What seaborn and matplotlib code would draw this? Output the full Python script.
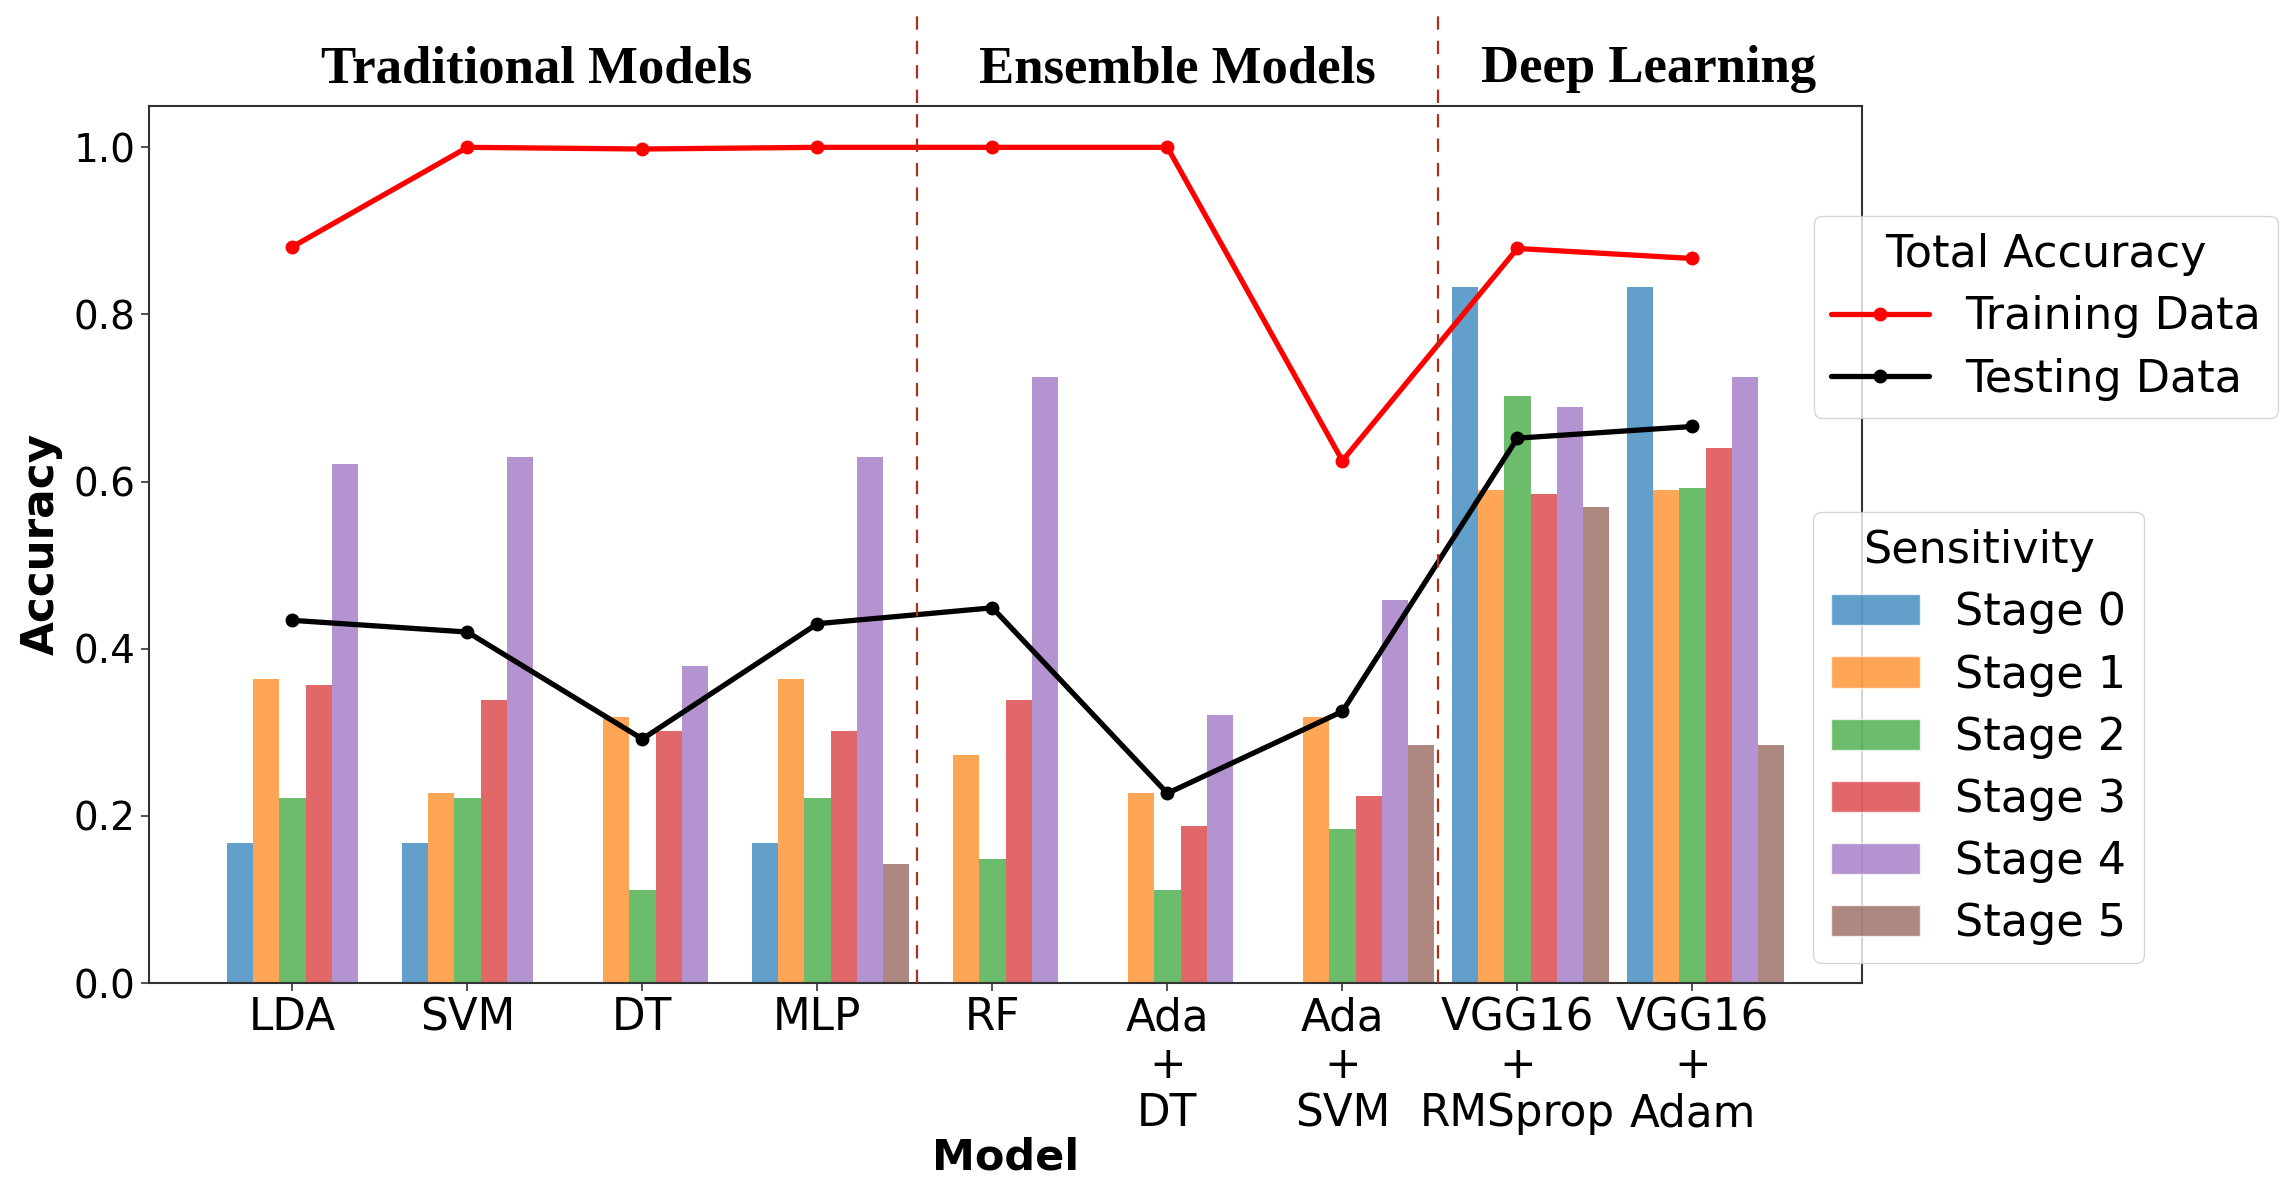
import numpy as np
import pandas as pd
import seaborn as sns
import matplotlib.pyplot as plt
from matplotlib.patches import Patch
from matplotlib.lines import Line2D
from matplotlib.transforms import blended_transform_factory

# ---- data ----
models = ["LDA", "SVM", "DT", "MLP", "RF", "Ada\n+\nDT", "Ada\n+\nSVM",
          "VGG16\n+\nRMSprop", "VGG16\n+\nAdam"]
stages = ["Stage 0", "Stage 1", "Stage 2", "Stage 3", "Stage 4", "Stage 5"]

stage0 = [0.167, 0.167, 0.0, 0.167, 0.0, 0.0, 0.0, 0.833, 0.833]
stage1 = [0.364, 0.227, 0.318, 0.364, 0.273, 0.227, 0.318, 0.590, 0.590]
stage2 = [0.222, 0.222, 0.111, 0.222, 0.148, 0.111, 0.184, 0.703, 0.592]
stage3 = [0.357, 0.339, 0.302, 0.302, 0.339, 0.188, 0.224, 0.585, 0.640]
stage4 = [0.621, 0.630, 0.379, 0.630, 0.725, 0.321, 0.458, 0.689, 0.725]
stage5 = [0.0, 0.0, 0.0, 0.142, 0.0, 0.0, 0.285, 0.570, 0.285]

train_acc = [0.881, 1.0, 0.998, 1.0, 1.0, 1.0, 0.625, 0.879, 0.867]
test_acc = [0.434, 0.420, 0.292, 0.430, 0.449, 0.227, 0.325, 0.652, 0.666]

sections = ["Traditional Models", "Ensemble Models", "Deep Learning"]

# ---- long table for seaborn ----
rows = []
for s, vals in enumerate([stage0, stage1, stage2, stage3, stage4, stage5]):
    for m, v in enumerate(vals):
        rows.append({"pos": round(m + (s - 2) * 0.15, 4), "stage": stages[s], "value": v})
df = pd.DataFrame(rows)

sns.set_style("ticks")
plt.rcParams["text.color"] = "black"
palette = sns.color_palette("tab10", 6)

fig = plt.figure(figsize=(22.91, 11.78), dpi=100)
ax = fig.add_axes([0.065, 0.1655, 0.7478, 0.7449])

sns.barplot(data=df, x="pos", y="value", hue="stage", hue_order=stages,
            palette=palette, saturation=1, native_scale=True, dodge=False, width=1.0,
            errorbar=None, alpha=0.7, linewidth=0, legend=False, ax=ax)

x = np.arange(len(models))
ax.plot(x, train_acc, color="red", lw=3.8, marker="o", ms=9, zorder=5)
ax.plot(x, test_acc, color="black", lw=3.8, marker="o", ms=9, zorder=5)

ax.set_xticks(x)
ax.set_xticklabels(models, fontsize=31.5, color="black", linespacing=1.15)
ax.set_xlim(-0.82, 8.97)
ax.set_ylim(0, 1.05)
ax.set_yticks([0.0, 0.2, 0.4, 0.6, 0.8, 1.0])
ax.set_yticklabels(["0.0", "0.2", "0.4", "0.6", "0.8", "1.0"], fontsize=28, color="black")
ax.tick_params(length=6, width=1.2, color="#333333")
for sp in ax.spines.values():
    sp.set_color("#333333")
    sp.set_linewidth(1.5)

ax.set_ylabel("Accuracy", fontsize=31.5, fontweight="bold", color="black")
ax.yaxis.set_label_coords(-0.05, 0.5)
ax.set_xlabel("Model", fontsize=31, fontweight="bold", color="black")
ax.xaxis.set_label_coords(0.5, -0.175)

# legends
line_handles = [Line2D([0], [0], color="red", lw=3.8, marker="o", ms=9),
                Line2D([0], [0], color="black", lw=3.8, marker="o", ms=9)]
leg1 = ax.legend(line_handles, ["Training Data", "Testing Data"], title="Total Accuracy",
                 loc="upper left", bbox_to_anchor=(0.7916, 0.817),
                 bbox_transform=fig.transFigure, borderaxespad=0,
                 fontsize=32, title_fontsize=32, labelspacing=0.43, handlelength=2.2)
ax.add_artist(leg1)
patch_handles = [Patch(facecolor=c, alpha=0.7) for c in palette]
ax.legend(patch_handles, stages, title="Sensitivity",
          loc="upper left", bbox_to_anchor=(0.7914, 0.5657),
          bbox_transform=fig.transFigure, borderaxespad=0,
          fontsize=32, title_fontsize=32, labelspacing=0.43)

# section dividers and headings
trans = blended_transform_factory(ax.transData, fig.transFigure)
for xd in [3.57, 6.545]:
    ax.plot([xd, xd], [0.1655, 0.995], transform=trans, color="#a8321c",
            lw=1.6, dashes=(6, 5), clip_on=False, zorder=6)

for label, xf in zip(sections, [0.2344, 0.5137, 0.7198]):
    fig.text(xf, 0.930, label, ha="center", va="baseline", fontsize=38,
             fontweight="bold", color="black", family=["Liberation Serif", "DejaVu Serif"])

fig.savefig("out.png", dpi=100)
